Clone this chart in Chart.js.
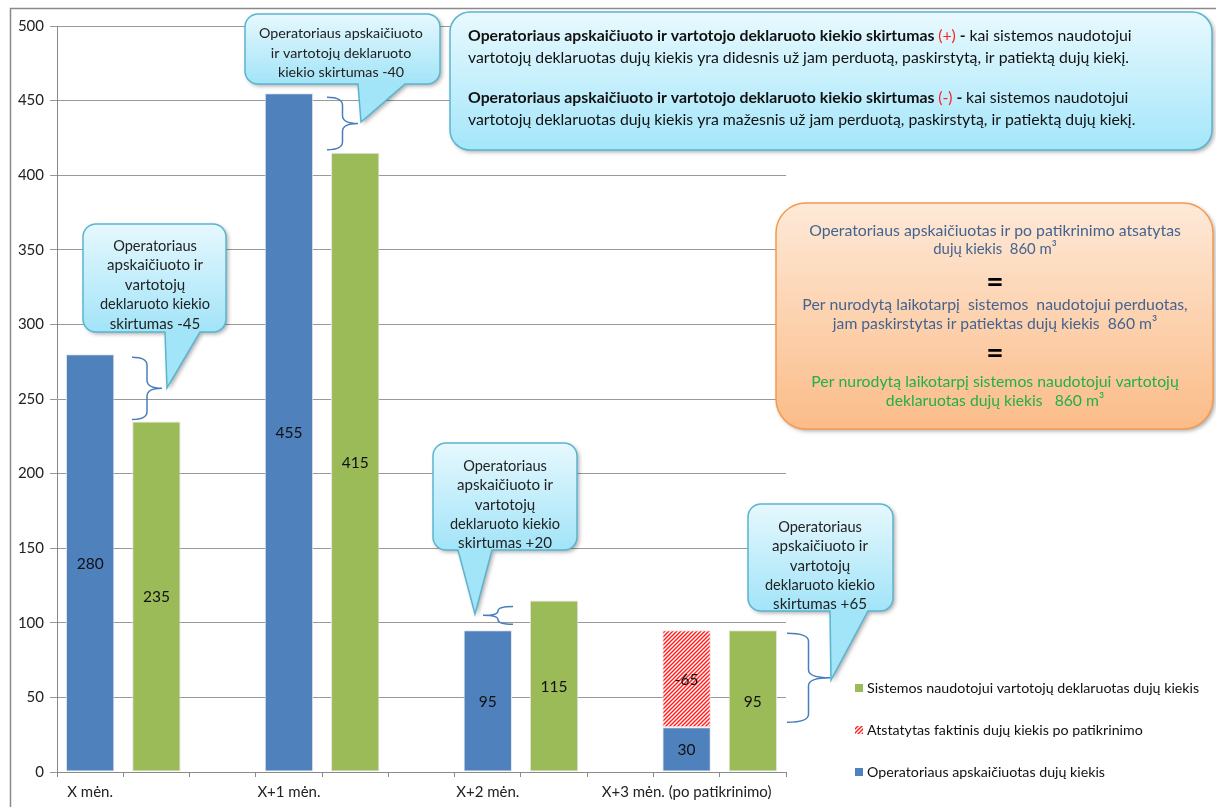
<!DOCTYPE html>
<html>
<head>
<meta charset="utf-8">
<script src="https://cdn.jsdelivr.net/npm/chart.js@4.4.1/dist/chart.umd.min.js"></script>
<style>
html,body{margin:0;padding:0;background:#fff;}
canvas{display:block;}
</style>
</head>
<body>
<canvas id="c" width="1216" height="807"></canvas>
<script>
// ---------- DATA ----------
const categories = ['X mėn.', '', '', 'X+1 mėn.', '', '', 'X+2 mėn.', '', '', 'X+3 mėn. (po patikrinimo)', ''];
const operatorValues = [280, null, null, 455, null, null, 95, null, null, 30, null];
const restoredValues = [null, null, null, null, null, null, null, null, null, 65, null];
const declaredValues = [null, 235, null, null, 415, null, null, 115, null, null, 95];
const seriesNames = ['Operatoriaus apskaičiuotas dujų kiekis', 'Atstatytas faktinis dujų kiekis po patikrinimo', 'Sistemos naudotojui vartotojų deklaruotas dujų kiekis'];
const yMin = 0, yMax = 500, yStep = 50;
const differenceNotes = ['-45', '-40', '+20', '+65'];

const FONT = 'Lato';

// hatched pattern for the restored series
function makeHatch() {
  const s = 4;
  const c = document.createElement('canvas');
  c.width = s; c.height = s;
  const g = c.getContext('2d');
  g.fillStyle = '#ffffff'; g.fillRect(0, 0, s, s);
  g.strokeStyle = '#ff2020'; g.lineWidth = 1.5;
  g.beginPath();
  g.moveTo(0, s); g.lineTo(s, 0);
  g.moveTo(-1, 1); g.lineTo(1, -1);
  g.moveTo(s - 1, s + 1); g.lineTo(s + 1, s - 1);
  g.stroke();
  return g.createPattern(c, 'repeat');
}
const hatch = makeHatch();

// ---------- helpers ----------
function roundRectPath(ctx, x, y, w, h, r, ptr) {
  ctx.beginPath();
  ctx.moveTo(x + r, y);
  ctx.lineTo(x + w - r, y);
  ctx.arcTo(x + w, y, x + w, y + r, r);
  ctx.lineTo(x + w, y + h - r);
  ctx.arcTo(x + w, y + h, x + w - r, y + h, r);
  if (ptr) {
    ctx.lineTo(ptr.b2, y + h);
    ctx.lineTo(ptr.tx, ptr.ty);
    ctx.lineTo(ptr.b1, y + h);
  }
  ctx.lineTo(x + r, y + h);
  ctx.arcTo(x, y + h, x, y + h - r, r);
  ctx.lineTo(x, y + r);
  ctx.arcTo(x, y, x + r, y, r);
  ctx.closePath();
}
function fillShape(ctx, x, y, w, h, r, ptr, c1, c2, stroke) {
  const g = ctx.createLinearGradient(0, y, 0, y + h);
  g.addColorStop(0, c1); g.addColorStop(1, c2);
  ctx.save();
  ctx.shadowColor = 'rgba(0,0,0,0.35)';
  ctx.shadowBlur = 4; ctx.shadowOffsetX = 2; ctx.shadowOffsetY = 2;
  roundRectPath(ctx, x, y, w, h, r, ptr);
  ctx.fillStyle = g; ctx.fill();
  ctx.restore();
  ctx.save();
  roundRectPath(ctx, x, y, w, h, r, ptr);
  ctx.strokeStyle = stroke; ctx.lineWidth = 1.5; ctx.stroke();
  ctx.restore();
}
function runsWidth(ctx, runs, size) {
  let total = 0;
  runs.forEach(r => { ctx.font = (r.b ? 'bold ' : '') + size + 'px ' + FONT; total += ctx.measureText(r.t).width; });
  return total;
}
// font size for a block of lines so that widths match the targets
function fitSize(ctx, blocks, targets, base) {
  const ratios = blocks.map((runs, i) => targets[i] / runsWidth(ctx, runs, base)).sort((a, b) => a - b);
  const med = ratios[Math.floor(ratios.length / 2)];
  return Math.max(base * 0.85, Math.min(base * 1.2, base * med));
}
function drawRuns(ctx, x, y, runs, size, target, align) {
  ctx.save();
  ctx.textBaseline = 'middle'; ctx.textAlign = 'left';
  const total = runsWidth(ctx, runs, size);
  const k = target && total > target ? target / total : 1;
  const startX = align === 'center' ? x - total * k / 2 : x;
  ctx.translate(startX, y); ctx.scale(k, 1);
  let cx = 0;
  runs.forEach(r => {
    ctx.font = (r.b ? 'bold ' : '') + size + 'px ' + FONT;
    ctx.fillStyle = r.c || '#111';
    ctx.fillText(r.t, cx, 0);
    cx += ctx.measureText(r.t).width;
  });
  ctx.restore();
}
function textBlock(ctx, x, ys, lines, targets, base, align, color) {
  const blocks = lines.map(l => typeof l === 'string' ? [{t: l, c: color}] : l);
  const size = fitSize(ctx, blocks, targets, base);
  blocks.forEach((runs, i) => drawRuns(ctx, x, ys[i], runs, size, targets[i] * 1.02, align));
}
function brace(ctx, xOpen, xTip, yTop, yBot) {
  const xm = (xOpen + xTip) / 2, yMid = (yTop + yBot) / 2;
  const q = Math.min(8, (yBot - yTop) / 4);
  ctx.save();
  ctx.strokeStyle = '#4A7EBB'; ctx.lineWidth = 1.5;
  ctx.beginPath();
  ctx.moveTo(xOpen, yTop);
  ctx.quadraticCurveTo(xm, yTop, xm, yTop + q);
  ctx.lineTo(xm, yMid - q);
  ctx.quadraticCurveTo(xm, yMid, xTip, yMid);
  ctx.quadraticCurveTo(xm, yMid, xm, yMid + q);
  ctx.lineTo(xm, yBot - q);
  ctx.quadraticCurveTo(xm, yBot, xOpen, yBot);
  ctx.stroke();
  ctx.restore();
}

// ---------- plugins ----------
const framePlugin = {
  id: 'frame',
  beforeDraw(chart) {
    const ctx = chart.ctx;
    ctx.save();
    ctx.fillStyle = '#fff'; ctx.fillRect(0, 0, chart.width, chart.height);
    ctx.strokeStyle = '#8a8a8a'; ctx.lineWidth = 1.5;
    ctx.beginPath();
    ctx.moveTo(10.5, chart.height); ctx.lineTo(10.5, 8.5); ctx.lineTo(chart.width, 8.5);
    ctx.stroke();
    ctx.restore();
  }
};

const barLabelPlugin = {
  id: 'barLabels',
  afterDatasetsDraw(chart) {
    const ctx = chart.ctx;
    ctx.save();
    ctx.font = '15.5px ' + FONT; ctx.fillStyle = '#111';
    ctx.textAlign = 'center'; ctx.textBaseline = 'middle';
    chart.data.datasets.forEach((ds, di) => {
      const meta = chart.getDatasetMeta(di);
      meta.data.forEach((el, i) => {
        const v = ds.data[i];
        if (v === null || v === undefined) return;
        const txt = ds.negLabel ? '-' + v : String(v);
        ctx.fillText(txt, el.x, (el.y + el.base) / 2 + 1);
      });
    });
    ctx.restore();
  }
};

const annotationPlugin = {
  id: 'annotations',
  afterDraw(chart) {
    const ctx = chart.ctx;
    const y = chart.scales.y;
    const blueA = '#E6F8FE', blueB = '#A2E4F8', blueS = '#5AB5D1';
    const ink = '#222';

    // braces between compared bars (anchored to data values)
    brace(ctx, 132, 162, y.getPixelForValue(operatorValues[0]) + 3, y.getPixelForValue(declaredValues[1]) - 2);
    brace(ctx, 327, 358, y.getPixelForValue(operatorValues[3]) + 4, y.getPixelForValue(declaredValues[4]) - 3);
    brace(ctx, 513, 483, y.getPixelForValue(declaredValues[7]) + 6, y.getPixelForValue(operatorValues[6]) - 6);
    brace(ctx, 787, 830, y.getPixelForValue(declaredValues[10]) + 3, y.getPixelForValue(operatorValues[9]) - 5);

    const bubbleLines = n => ['Operatoriaus', 'apskaičiuoto ir', 'vartotojų', 'deklaruoto kiekio', 'skirtumas ' + n];
    const bubbleW = [82, 96, 62, 108, 98];

    // speech bubbles
    fillShape(ctx, 83, 224, 143, 108, 13, {b1: 165, b2: 200, tx: 167, ty: 388}, blueA, blueB, blueS);
    textBlock(ctx, 155, [246, 265.5, 285, 304.5, 324], bubbleLines(differenceNotes[0]), bubbleW, 15, 'center', ink);

    fillShape(ctx, 245, 14, 195, 70, 13, {b1: 358, b2: 405, tx: 361, ty: 122}, blueA, blueB, blueS);
    textBlock(ctx, 341, [33, 53, 72.5], ['Operatoriaus apskaičiuoto', 'ir vartotojų deklaruoto', 'kiekio skirtumas ' + differenceNotes[1]], [164, 146, 125], 15, 'center', ink);

    fillShape(ctx, 433, 443, 144, 107, 13, {b1: 458, b2: 492, tx: 475, ty: 614}, blueA, blueB, blueS);
    textBlock(ctx, 505, [466, 485.5, 505, 524, 543.5], bubbleLines(differenceNotes[2]), bubbleW, 15, 'center', ink);

    fillShape(ctx, 748, 504, 145, 107, 13, {b1: 830, b2: 868, tx: 831, ty: 680}, blueA, blueB, blueS);
    textBlock(ctx, 820, [527, 546.5, 566, 585, 604.5], bubbleLines(differenceNotes[3]), bubbleW, 15, 'center', ink);

    // explanation box
    fillShape(ctx, 450, 12, 762, 138, 20, null, '#E8F9FE', '#A4E6FA', blueS);
    const red = '#FF2020';
    textBlock(ctx, 468, [36, 58, 98, 120], [
      [{t: 'Operatoriaus apskaičiuoto ir vartotojo deklaruoto kiekio skirtumas ', b: true},
       {t: '(+)', c: red}, {t: ' - ', b: true}, {t: 'kai sistemos naudotojui'}],
      [{t: 'vartotojų deklaruotas dujų kiekis yra didesnis už jam perduotą, paskirstytą, ir patiektą dujų kiekį.'}],
      [{t: 'Operatoriaus apskaičiuoto ir vartotojo deklaruoto kiekio skirtumas ', b: true},
       {t: '(-)', c: red}, {t: ' - ', b: true}, {t: 'kai sistemos naudotojui'}],
      [{t: 'vartotojų deklaruotas dujų kiekis yra mažesnis už jam perduotą, paskirstytą, ir patiektą dujų kiekį.'}]
    ], [665, 658, 661, 664], 15, 'left');

    // summary box
    fillShape(ctx, 776, 203, 437, 226, 30, null, '#FEE9D8', '#FBBC88', '#F59A4E');
    const slate = '#45638F', green = '#20B04A';
    const sumLines = [
      [{t: 'Operatoriaus apskaičiuotas ir po patikrinimo atsatytas', c: slate}],
      [{t: 'dujų kiekis  860 m³', c: slate}],
      [{t: 'Per nurodytą laikotarpį  sistemos  naudotojui perduotas,', c: slate}],
      [{t: 'jam paskirstytas ir patiektas dujų kiekis  860 m³', c: slate}],
      [{t: 'Per nurodytą laikotarpį sistemos naudotojui vartotojų', c: green}],
      [{t: 'deklaruotas dujų kiekis   860 m³', c: green}]
    ];
    textBlock(ctx, 995, [231, 249, 305, 324, 382, 401], sumLines, [372, 121, 386, 318, 370, 214], 15, 'center');
    ctx.save();
    ctx.font = 'bold 30px ' + FONT; ctx.fillStyle = '#000'; ctx.textAlign = 'center'; ctx.textBaseline = 'middle';
    ctx.fillText('=', 995, 282);
    ctx.fillText('=', 995, 353);
    ctx.restore();

    // legend (reversed order, built from the datasets)
    const items = chart.data.datasets.slice().reverse();
    const legendW = [335, 276, 238];
    const lsize = fitSize(ctx, items.map(d => [{t: d.label}]), legendW, 15);
    items.forEach((ds, i) => {
      const cy = 688 + i * 42;
      ctx.save();
      ctx.fillStyle = ds.backgroundColor;
      ctx.fillRect(855, cy - 4, 8, 8);
      ctx.restore();
      drawRuns(ctx, 867, cy, [{t: ds.label, c: '#111'}], lsize, legendW[i] * 1.02, 'left');
    });
  }
};

// ---------- chart ----------
const tickFont = {family: FONT, size: 15};
new Chart(document.getElementById('c'), {
  type: 'bar',
  data: {
    labels: categories,
    datasets: [
      {label: seriesNames[0], data: operatorValues, backgroundColor: '#4F81BD'},
      {label: seriesNames[1], data: restoredValues, backgroundColor: hatch, negLabel: true},
      {label: seriesNames[2], data: declaredValues, backgroundColor: '#9BBB59'}
    ].map(d => Object.assign(d, {barPercentage: 0.73, categoryPercentage: 1.0, borderWidth: 1, borderColor: '#e4e4e4', borderSkipped: false}))
  },
  options: {
    responsive: false,
    animation: false,
    devicePixelRatio: 1,
    layout: {padding: {left: 10, top: 26, right: 430, bottom: 0}},
    plugins: {legend: {display: false}, tooltip: {enabled: false}},
    scales: {
      x: {
        stacked: true, offset: true,
        grid: {offset: true, drawOnChartArea: false, tickLength: 5, color: '#8a8a8a'},
        border: {color: '#8a8a8a'},
        ticks: {autoSkip: false, maxRotation: 0, color: '#222', font: tickFont, padding: 6},
        afterFit(s) { s.height = 35; }
      },
      y: {
        stacked: true, min: yMin, max: yMax,
        ticks: {stepSize: yStep, color: '#222', font: tickFont, padding: 6},
        grid: {color: '#999', tickLength: 7},
        border: {color: '#8a8a8a'},
        afterFit(s) { s.width = 47; }
      }
    }
  },
  plugins: [framePlugin, barLabelPlugin, annotationPlugin]
});
</script>
</body>
</html>
